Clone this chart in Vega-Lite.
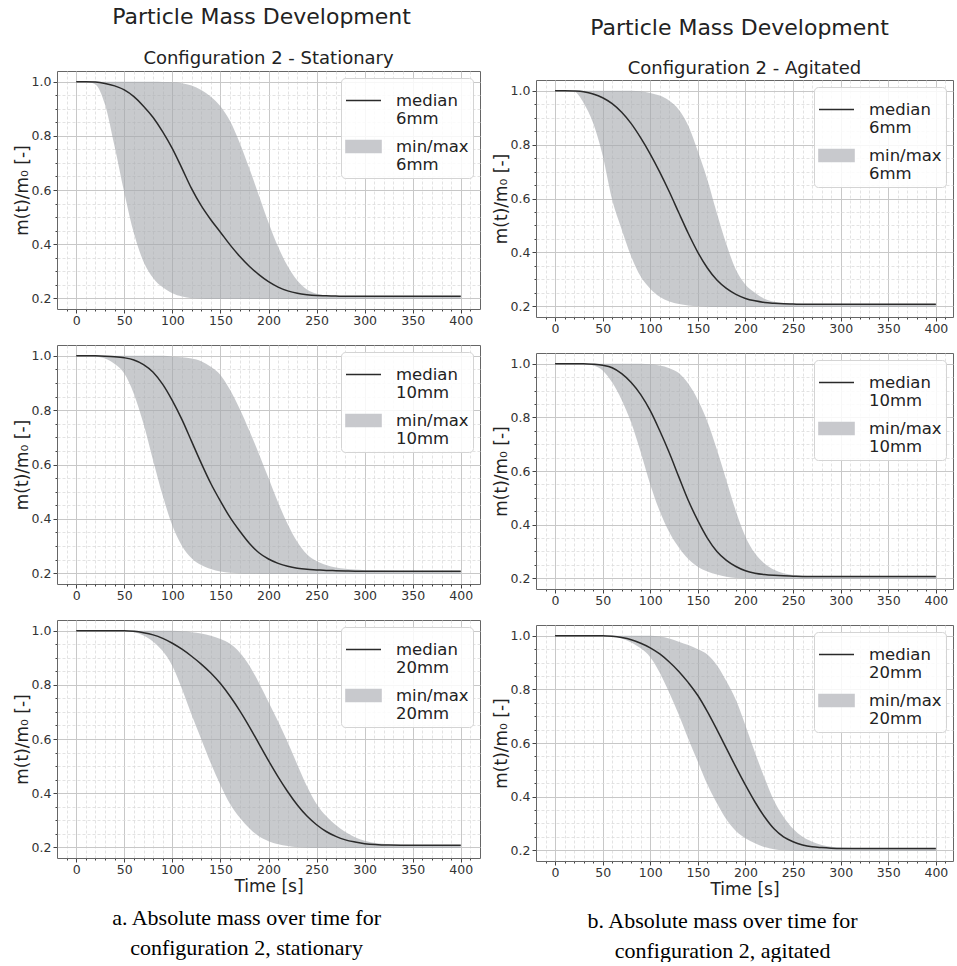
{
  "$schema": "https://vega.github.io/schema/vega-lite/v6.json",
  "background": "white",
  "padding": {"left": 12, "top": 6, "right": 0, "bottom": 0},
  "config": {
    "font": "DejaVu Sans",
    "view": {"stroke": "#666666", "strokeWidth": 1},
    "axis": {"labelFont": "DejaVu Sans", "labelFontSize": 12.5, "labelColor": "#333333", "tickColor": "#444444", "titleFont": "DejaVu Sans", "titleFontSize": 17, "titleFontWeight": "normal", "titleColor": "#222222", "domain": false, "grid": true, "labelFlush": false, "labelPadding": 2},
    "axisY": {"titlePadding": 0, "labelPadding": 2},
    "axisX": {"titlePadding": 3, "labelPadding": 1},
    "title": {"font": "DejaVu Sans", "fontWeight": "normal", "color": "#222222"},
    "legend": {"labelFont": "DejaVu Sans"}
  },
  "datasets": {
    "L6": [
      {"t":0,"med":1,"lo":1,"hi":1},{"t":10,"med":1,"lo":1,"hi":1},{"t":20,"med":0.999,"lo":0.99,"hi":1},{"t":30,"med":0.994,"lo":0.915,"hi":1},{"t":40,"med":0.985,"lo":0.76,"hi":1},{"t":50,"med":0.97,"lo":0.59,"hi":1},{"t":60,"med":0.945,"lo":0.44,"hi":1},{"t":70,"med":0.91,"lo":0.335,"hi":1},{"t":80,"med":0.868,"lo":0.275,"hi":1},{"t":90,"med":0.815,"lo":0.24,"hi":0.999},{"t":100,"med":0.753,"lo":0.218,"hi":0.998},{"t":110,"med":0.68,"lo":0.206,"hi":0.995},{"t":120,"med":0.605,"lo":0.2,"hi":0.986},{"t":130,"med":0.542,"lo":0.198,"hi":0.97},{"t":140,"med":0.49,"lo":0.197,"hi":0.945},{"t":150,"med":0.444,"lo":0.197,"hi":0.91},{"t":160,"med":0.397,"lo":0.197,"hi":0.855},{"t":170,"med":0.355,"lo":0.197,"hi":0.775},{"t":180,"med":0.318,"lo":0.197,"hi":0.68},{"t":190,"med":0.287,"lo":0.197,"hi":0.58},{"t":200,"med":0.261,"lo":0.197,"hi":0.48},{"t":210,"med":0.241,"lo":0.197,"hi":0.39},{"t":220,"med":0.227,"lo":0.197,"hi":0.318},{"t":230,"med":0.218,"lo":0.197,"hi":0.265},{"t":240,"med":0.213,"lo":0.197,"hi":0.232},{"t":250,"med":0.21,"lo":0.197,"hi":0.216},{"t":260,"med":0.209,"lo":0.197,"hi":0.21},{"t":270,"med":0.208,"lo":0.197,"hi":0.209},{"t":280,"med":0.207,"lo":0.197,"hi":0.208},{"t":290,"med":0.207,"lo":0.197,"hi":0.208},{"t":300,"med":0.207,"lo":0.197,"hi":0.208},{"t":325,"med":0.207,"lo":0.197,"hi":0.208},{"t":350,"med":0.207,"lo":0.197,"hi":0.208},{"t":400,"med":0.207,"lo":0.197,"hi":0.208}
    ],
    "L10": [
      {"t":0,"med":1,"lo":1,"hi":1},{"t":10,"med":1,"lo":1,"hi":1},{"t":20,"med":1,"lo":0.998,"hi":1},{"t":30,"med":0.999,"lo":0.99,"hi":1},{"t":40,"med":0.997,"lo":0.97,"hi":1},{"t":50,"med":0.993,"lo":0.935,"hi":1},{"t":60,"med":0.985,"lo":0.86,"hi":1},{"t":70,"med":0.968,"lo":0.75,"hi":1},{"t":80,"med":0.94,"lo":0.615,"hi":1},{"t":90,"med":0.895,"lo":0.485,"hi":1},{"t":100,"med":0.835,"lo":0.375,"hi":0.997},{"t":110,"med":0.765,"lo":0.3,"hi":0.995},{"t":120,"med":0.685,"lo":0.255,"hi":0.99},{"t":130,"med":0.605,"lo":0.23,"hi":0.98},{"t":140,"med":0.53,"lo":0.215,"hi":0.96},{"t":150,"med":0.465,"lo":0.206,"hi":0.93},{"t":160,"med":0.405,"lo":0.201,"hi":0.875},{"t":170,"med":0.355,"lo":0.199,"hi":0.805},{"t":180,"med":0.31,"lo":0.198,"hi":0.725},{"t":190,"med":0.275,"lo":0.197,"hi":0.64},{"t":200,"med":0.252,"lo":0.197,"hi":0.55},{"t":210,"med":0.236,"lo":0.197,"hi":0.46},{"t":220,"med":0.225,"lo":0.197,"hi":0.38},{"t":230,"med":0.218,"lo":0.197,"hi":0.315},{"t":240,"med":0.214,"lo":0.197,"hi":0.27},{"t":250,"med":0.212,"lo":0.197,"hi":0.245},{"t":260,"med":0.21,"lo":0.197,"hi":0.23},{"t":270,"med":0.209,"lo":0.197,"hi":0.221},{"t":280,"med":0.208,"lo":0.197,"hi":0.216},{"t":290,"med":0.207,"lo":0.197,"hi":0.213},{"t":300,"med":0.207,"lo":0.197,"hi":0.211},{"t":325,"med":0.207,"lo":0.197,"hi":0.209},{"t":350,"med":0.207,"lo":0.197,"hi":0.208},{"t":400,"med":0.207,"lo":0.197,"hi":0.208}
    ],
    "L20": [
      {"t":0,"med":1,"lo":1,"hi":1},{"t":10,"med":1,"lo":1,"hi":1},{"t":20,"med":1,"lo":1,"hi":1},{"t":30,"med":1,"lo":1,"hi":1},{"t":40,"med":1,"lo":1,"hi":1},{"t":50,"med":1,"lo":1,"hi":1},{"t":60,"med":0.998,"lo":0.995,"hi":1},{"t":70,"med":0.993,"lo":0.983,"hi":1},{"t":80,"med":0.985,"lo":0.96,"hi":1},{"t":90,"med":0.972,"lo":0.925,"hi":1},{"t":100,"med":0.954,"lo":0.87,"hi":1},{"t":110,"med":0.932,"lo":0.785,"hi":0.998},{"t":120,"med":0.906,"lo":0.69,"hi":0.995},{"t":130,"med":0.877,"lo":0.6,"hi":0.99},{"t":140,"med":0.844,"lo":0.51,"hi":0.982},{"t":150,"med":0.805,"lo":0.43,"hi":0.97},{"t":160,"med":0.758,"lo":0.36,"hi":0.952},{"t":170,"med":0.705,"lo":0.31,"hi":0.92},{"t":180,"med":0.646,"lo":0.27,"hi":0.872},{"t":190,"med":0.583,"lo":0.24,"hi":0.808},{"t":200,"med":0.52,"lo":0.222,"hi":0.737},{"t":210,"med":0.46,"lo":0.211,"hi":0.665},{"t":220,"med":0.405,"lo":0.204,"hi":0.588},{"t":230,"med":0.356,"lo":0.2,"hi":0.505},{"t":240,"med":0.315,"lo":0.198,"hi":0.425},{"t":250,"med":0.283,"lo":0.197,"hi":0.36},{"t":260,"med":0.258,"lo":0.197,"hi":0.315},{"t":270,"med":0.24,"lo":0.197,"hi":0.282},{"t":280,"med":0.227,"lo":0.197,"hi":0.256},{"t":290,"med":0.219,"lo":0.197,"hi":0.237},{"t":300,"med":0.213,"lo":0.197,"hi":0.224},{"t":325,"med":0.208,"lo":0.197,"hi":0.211},{"t":350,"med":0.207,"lo":0.197,"hi":0.208},{"t":400,"med":0.207,"lo":0.197,"hi":0.208}
    ],
    "R6": [
      {"t":0,"med":1,"lo":1,"hi":1},{"t":10,"med":1,"lo":1,"hi":1},{"t":20,"med":0.999,"lo":0.997,"hi":1},{"t":30,"med":0.996,"lo":0.955,"hi":1},{"t":40,"med":0.988,"lo":0.88,"hi":1},{"t":50,"med":0.974,"lo":0.76,"hi":1},{"t":60,"med":0.952,"lo":0.595,"hi":1},{"t":70,"med":0.92,"lo":0.485,"hi":1},{"t":80,"med":0.878,"lo":0.385,"hi":1},{"t":90,"med":0.825,"lo":0.31,"hi":0.998},{"t":100,"med":0.765,"lo":0.265,"hi":0.992},{"t":110,"med":0.698,"lo":0.235,"hi":0.982},{"t":120,"med":0.625,"lo":0.218,"hi":0.963},{"t":130,"med":0.547,"lo":0.208,"hi":0.93},{"t":140,"med":0.47,"lo":0.203,"hi":0.87},{"t":150,"med":0.4,"lo":0.2,"hi":0.775},{"t":160,"med":0.342,"lo":0.198,"hi":0.67},{"t":170,"med":0.297,"lo":0.197,"hi":0.545},{"t":180,"med":0.266,"lo":0.197,"hi":0.43},{"t":190,"med":0.244,"lo":0.197,"hi":0.335},{"t":200,"med":0.229,"lo":0.197,"hi":0.28},{"t":210,"med":0.22,"lo":0.197,"hi":0.25},{"t":220,"med":0.214,"lo":0.197,"hi":0.228},{"t":230,"med":0.211,"lo":0.197,"hi":0.217},{"t":240,"med":0.209,"lo":0.197,"hi":0.212},{"t":250,"med":0.208,"lo":0.197,"hi":0.21},{"t":260,"med":0.207,"lo":0.197,"hi":0.208},{"t":270,"med":0.207,"lo":0.197,"hi":0.208},{"t":280,"med":0.207,"lo":0.197,"hi":0.208},{"t":290,"med":0.207,"lo":0.197,"hi":0.208},{"t":300,"med":0.207,"lo":0.197,"hi":0.208},{"t":325,"med":0.207,"lo":0.197,"hi":0.208},{"t":350,"med":0.207,"lo":0.197,"hi":0.208},{"t":400,"med":0.207,"lo":0.197,"hi":0.208}
    ],
    "R10": [
      {"t":0,"med":1,"lo":1,"hi":1},{"t":10,"med":1,"lo":1,"hi":1},{"t":20,"med":1,"lo":1,"hi":1},{"t":30,"med":1,"lo":1,"hi":1},{"t":40,"med":0.998,"lo":0.993,"hi":1},{"t":50,"med":0.994,"lo":0.975,"hi":1},{"t":60,"med":0.985,"lo":0.93,"hi":1},{"t":70,"med":0.963,"lo":0.865,"hi":1},{"t":80,"med":0.93,"lo":0.78,"hi":1},{"t":90,"med":0.885,"lo":0.67,"hi":1},{"t":100,"med":0.825,"lo":0.55,"hi":0.998},{"t":110,"med":0.75,"lo":0.45,"hi":0.993},{"t":120,"med":0.668,"lo":0.372,"hi":0.983},{"t":130,"med":0.578,"lo":0.315,"hi":0.965},{"t":140,"med":0.49,"lo":0.272,"hi":0.925},{"t":150,"med":0.415,"lo":0.243,"hi":0.865},{"t":160,"med":0.35,"lo":0.225,"hi":0.785},{"t":170,"med":0.3,"lo":0.214,"hi":0.68},{"t":180,"med":0.267,"lo":0.206,"hi":0.565},{"t":190,"med":0.244,"lo":0.201,"hi":0.45},{"t":200,"med":0.228,"lo":0.199,"hi":0.355},{"t":210,"med":0.219,"lo":0.197,"hi":0.293},{"t":220,"med":0.214,"lo":0.197,"hi":0.255},{"t":230,"med":0.211,"lo":0.197,"hi":0.232},{"t":240,"med":0.209,"lo":0.197,"hi":0.219},{"t":250,"med":0.208,"lo":0.197,"hi":0.212},{"t":260,"med":0.207,"lo":0.197,"hi":0.209},{"t":270,"med":0.207,"lo":0.197,"hi":0.208},{"t":280,"med":0.207,"lo":0.197,"hi":0.208},{"t":290,"med":0.207,"lo":0.197,"hi":0.208},{"t":300,"med":0.207,"lo":0.197,"hi":0.208},{"t":325,"med":0.207,"lo":0.197,"hi":0.208},{"t":350,"med":0.207,"lo":0.197,"hi":0.208},{"t":400,"med":0.207,"lo":0.197,"hi":0.208}
    ],
    "R20": [
      {"t":0,"med":1,"lo":1,"hi":1},{"t":10,"med":1,"lo":1,"hi":1},{"t":20,"med":1,"lo":1,"hi":1},{"t":30,"med":1,"lo":1,"hi":1},{"t":40,"med":1,"lo":1,"hi":1},{"t":50,"med":1,"lo":1,"hi":1},{"t":60,"med":0.998,"lo":0.998,"hi":1},{"t":70,"med":0.993,"lo":0.99,"hi":1},{"t":80,"med":0.985,"lo":0.975,"hi":1},{"t":90,"med":0.972,"lo":0.953,"hi":1},{"t":100,"med":0.955,"lo":0.92,"hi":1},{"t":110,"med":0.932,"lo":0.862,"hi":0.997},{"t":120,"med":0.902,"lo":0.787,"hi":0.99},{"t":130,"med":0.867,"lo":0.705,"hi":0.978},{"t":140,"med":0.825,"lo":0.615,"hi":0.965},{"t":150,"med":0.777,"lo":0.53,"hi":0.95},{"t":160,"med":0.717,"lo":0.445,"hi":0.93},{"t":170,"med":0.65,"lo":0.375,"hi":0.89},{"t":180,"med":0.58,"lo":0.315,"hi":0.83},{"t":190,"med":0.51,"lo":0.272,"hi":0.76},{"t":200,"med":0.443,"lo":0.245,"hi":0.665},{"t":210,"med":0.38,"lo":0.226,"hi":0.565},{"t":220,"med":0.325,"lo":0.212,"hi":0.47},{"t":230,"med":0.28,"lo":0.204,"hi":0.385},{"t":240,"med":0.25,"lo":0.2,"hi":0.325},{"t":250,"med":0.232,"lo":0.198,"hi":0.28},{"t":260,"med":0.22,"lo":0.197,"hi":0.25},{"t":270,"med":0.213,"lo":0.197,"hi":0.232},{"t":280,"med":0.21,"lo":0.197,"hi":0.22},{"t":290,"med":0.208,"lo":0.197,"hi":0.213},{"t":300,"med":0.207,"lo":0.197,"hi":0.21},{"t":325,"med":0.207,"lo":0.197,"hi":0.208},{"t":350,"med":0.207,"lo":0.197,"hi":0.208},{"t":400,"med":0.207,"lo":0.197,"hi":0.208}
    ]
  },
  "resolve": {"scale": {"color": "independent", "shape": "independent", "fill": "independent"}, "legend": {"color": "independent", "shape": "independent", "fill": "independent"}},
  "spacing": 10,
  "hconcat": [
    {
      "bounds": "flush",
      "spacing": 36,
      "resolve": {"scale": {"color": "independent", "shape": "independent", "fill": "independent"}, "legend": {"color": "independent", "shape": "independent", "fill": "independent"}},
      "title": {"text": ["a.  Absolute mass over time for", "configuration 2, stationary"], "orient": "bottom", "anchor": "middle", "font": "Liberation Serif", "fontSize": 22, "fontWeight": "normal", "color": "#000000", "lineHeight": 30, "offset": 13},
      "vconcat": [
        {
          "width": 423, "height": 4,
          "view": {"stroke": null},
          "data": {"values": [{}]},
          "mark": {"type": "text"},
          "encoding": {"text": {"value": ""}},
          "title": {"text": "Particle Mass Development", "fontSize": 22, "offset": -2, "dx": -7, "frame": "group", "anchor": "middle"}
        },
        {
          "width": 423, "height": 238,
          "data": {"name": "L6"},
          "title": {"text": "Configuration 2 - Stationary", "fontSize": 18, "offset": 3, "frame": "group", "anchor": "middle"},
          "resolve": {"axis": {"x": "independent", "y": "independent"}},
          "layer": [
            {
              "mark": {"type": "area", "interpolate": "monotone", "opacity": 0.6},
              "encoding": {
                "x": {"field": "t", "type": "quantitative", "scale": {"domain": [-20, 420], "nice": false, "zero": false},
                  "axis": {"orient": "bottom", "title": null, "values": [0,50,100,150,200,250,300,350,400], "tickSize": 4, "grid": true, "gridColor": "#c8c8c8", "gridWidth": 1}},
                "y": {"field": "lo", "type": "quantitative", "scale": {"domain": [0.16, 1.04], "nice": false, "zero": false},
                  "axis": {"orient": "left", "title": "m(t)/m₀ [-]", "values": [0.2,0.4,0.6,0.8,1.0], "format": ".1f", "tickSize": 4, "grid": true, "gridColor": "#c8c8c8", "gridWidth": 1}},
                "y2": {"field": "hi"},
                "fill": {"datum": "band 6mm", "type": "nominal", "scale": {"domain": ["band 6mm"], "range": ["#a4a6ab"]}, "legend": null}
              }
            },
            {
              "mark": {"type": "line", "interpolate": "monotone", "strokeWidth": 1.5},
              "encoding": {
                "x": {"field": "t", "type": "quantitative", "axis": {"orient": "bottom", "title": null, "labels": false, "grid": true, "values": [-10,10,20,30,40,60,70,80,90,110,120,130,140,160,170,180,190,210,220,230,240,260,270,280,290,310,320,330,340,360,370,380,390,410], "tickSize": 2, "gridDash": [3, 2], "gridColor": "#dcdcdc", "gridWidth": 0.8}},
                "y": {"field": "med", "type": "quantitative", "axis": {"orient": "left", "title": null, "labels": false, "grid": true, "values": [0.25,0.3,0.35,0.45,0.5,0.55,0.65,0.7,0.75,0.85,0.9,0.95], "tickSize": 2, "gridDash": [3, 2], "gridColor": "#dcdcdc", "gridWidth": 0.8}},
                "color": {"datum": "median|6mm", "type": "nominal",
                  "scale": {"domain": ["median|6mm", "min/max|6mm"], "range": ["#2a2a2a", "#c8c9cd"]},
                  "legend": {"title": null, "orient": "top-right", "offset": 7, "labelExpr": "split(datum.label, '|')", "labelFontSize": 16.5, "labelColor": "#222222", "symbolSize": 1225, "symbolStrokeWidth": 1.6, "symbolOpacity": 1, "labelOffset": 14, "rowPadding": -4, "padding": 4, "fillColor": "rgba(255,255,255,0.85)", "strokeColor": "#d4d4d4", "cornerRadius": 4, "labelLimit": 300}}
              }
            },
            {
              "mark": {"type": "point", "opacity": 0, "filled": true},
              "encoding": {
                "x": {"field": "t", "type": "quantitative", "axis": null},
                "y": {"field": "med", "type": "quantitative", "axis": null},
                "color": {"datum": "median|6mm", "type": "nominal"},
                "shape": {"datum": "median|6mm", "type": "nominal",
                  "scale": {"domain": ["median|6mm", "min/max|6mm"], "range": ["M-1,0H1", "M-1,-0.34H1V0.34H-1Z"]},
                  "legend": {"title": null, "orient": "top-right", "offset": 7, "labelExpr": "split(datum.label, '|')", "labelFontSize": 16.5, "labelColor": "#222222", "symbolSize": 1225, "symbolStrokeWidth": 1.6, "symbolOpacity": 1, "labelOffset": 14, "rowPadding": -4, "padding": 4, "fillColor": "rgba(255,255,255,0.85)", "strokeColor": "#d4d4d4", "cornerRadius": 4, "labelLimit": 300}}
              }
            }
          ]
        },
        {
          "width": 423, "height": 239,
          "data": {"name": "L10"},
          "resolve": {"axis": {"x": "independent", "y": "independent"}},
          "layer": [
            {
              "mark": {"type": "area", "interpolate": "monotone", "opacity": 0.6},
              "encoding": {
                "x": {"field": "t", "type": "quantitative", "scale": {"domain": [-20, 420], "nice": false, "zero": false},
                  "axis": {"orient": "bottom", "title": null, "values": [0,50,100,150,200,250,300,350,400], "tickSize": 4, "grid": true, "gridColor": "#c8c8c8", "gridWidth": 1}},
                "y": {"field": "lo", "type": "quantitative", "scale": {"domain": [0.16, 1.04], "nice": false, "zero": false},
                  "axis": {"orient": "left", "title": "m(t)/m₀ [-]", "values": [0.2,0.4,0.6,0.8,1.0], "format": ".1f", "tickSize": 4, "grid": true, "gridColor": "#c8c8c8", "gridWidth": 1}},
                "y2": {"field": "hi"},
                "fill": {"datum": "band 10mm", "type": "nominal", "scale": {"domain": ["band 10mm"], "range": ["#a4a6ab"]}, "legend": null}
              }
            },
            {
              "mark": {"type": "line", "interpolate": "monotone", "strokeWidth": 1.5},
              "encoding": {
                "x": {"field": "t", "type": "quantitative", "axis": {"orient": "bottom", "title": null, "labels": false, "grid": true, "values": [-10,10,20,30,40,60,70,80,90,110,120,130,140,160,170,180,190,210,220,230,240,260,270,280,290,310,320,330,340,360,370,380,390,410], "tickSize": 2, "gridDash": [3, 2], "gridColor": "#dcdcdc", "gridWidth": 0.8}},
                "y": {"field": "med", "type": "quantitative", "axis": {"orient": "left", "title": null, "labels": false, "grid": true, "values": [0.25,0.3,0.35,0.45,0.5,0.55,0.65,0.7,0.75,0.85,0.9,0.95], "tickSize": 2, "gridDash": [3, 2], "gridColor": "#dcdcdc", "gridWidth": 0.8}},
                "color": {"datum": "median|10mm", "type": "nominal",
                  "scale": {"domain": ["median|10mm", "min/max|10mm"], "range": ["#2a2a2a", "#c8c9cd"]},
                  "legend": {"title": null, "orient": "top-right", "offset": 7, "labelExpr": "split(datum.label, '|')", "labelFontSize": 16.5, "labelColor": "#222222", "symbolSize": 1225, "symbolStrokeWidth": 1.6, "symbolOpacity": 1, "labelOffset": 14, "rowPadding": -4, "padding": 4, "fillColor": "rgba(255,255,255,0.85)", "strokeColor": "#d4d4d4", "cornerRadius": 4, "labelLimit": 300}}
              }
            },
            {
              "mark": {"type": "point", "opacity": 0, "filled": true},
              "encoding": {
                "x": {"field": "t", "type": "quantitative", "axis": null},
                "y": {"field": "med", "type": "quantitative", "axis": null},
                "color": {"datum": "median|10mm", "type": "nominal"},
                "shape": {"datum": "median|10mm", "type": "nominal",
                  "scale": {"domain": ["median|10mm", "min/max|10mm"], "range": ["M-1,0H1", "M-1,-0.34H1V0.34H-1Z"]},
                  "legend": {"title": null, "orient": "top-right", "offset": 7, "labelExpr": "split(datum.label, '|')", "labelFontSize": 16.5, "labelColor": "#222222", "symbolSize": 1225, "symbolStrokeWidth": 1.6, "symbolOpacity": 1, "labelOffset": 14, "rowPadding": -4, "padding": 4, "fillColor": "rgba(255,255,255,0.85)", "strokeColor": "#d4d4d4", "cornerRadius": 4, "labelLimit": 300}}
              }
            }
          ]
        },
        {
          "width": 423, "height": 238,
          "data": {"name": "L20"},
          "resolve": {"axis": {"x": "independent", "y": "independent"}},
          "layer": [
            {
              "mark": {"type": "area", "interpolate": "monotone", "opacity": 0.6},
              "encoding": {
                "x": {"field": "t", "type": "quantitative", "scale": {"domain": [-20, 420], "nice": false, "zero": false},
                  "axis": {"orient": "bottom", "title": "Time [s]", "values": [0,50,100,150,200,250,300,350,400], "tickSize": 4, "grid": true, "gridColor": "#c8c8c8", "gridWidth": 1}},
                "y": {"field": "lo", "type": "quantitative", "scale": {"domain": [0.16, 1.04], "nice": false, "zero": false},
                  "axis": {"orient": "left", "title": "m(t)/m₀ [-]", "values": [0.2,0.4,0.6,0.8,1.0], "format": ".1f", "tickSize": 4, "grid": true, "gridColor": "#c8c8c8", "gridWidth": 1}},
                "y2": {"field": "hi"},
                "fill": {"datum": "band 20mm", "type": "nominal", "scale": {"domain": ["band 20mm"], "range": ["#a4a6ab"]}, "legend": null}
              }
            },
            {
              "mark": {"type": "line", "interpolate": "monotone", "strokeWidth": 1.5},
              "encoding": {
                "x": {"field": "t", "type": "quantitative", "axis": {"orient": "bottom", "title": null, "labels": false, "grid": true, "values": [-10,10,20,30,40,60,70,80,90,110,120,130,140,160,170,180,190,210,220,230,240,260,270,280,290,310,320,330,340,360,370,380,390,410], "tickSize": 2, "gridDash": [3, 2], "gridColor": "#dcdcdc", "gridWidth": 0.8}},
                "y": {"field": "med", "type": "quantitative", "axis": {"orient": "left", "title": null, "labels": false, "grid": true, "values": [0.25,0.3,0.35,0.45,0.5,0.55,0.65,0.7,0.75,0.85,0.9,0.95], "tickSize": 2, "gridDash": [3, 2], "gridColor": "#dcdcdc", "gridWidth": 0.8}},
                "color": {"datum": "median|20mm", "type": "nominal",
                  "scale": {"domain": ["median|20mm", "min/max|20mm"], "range": ["#2a2a2a", "#c8c9cd"]},
                  "legend": {"title": null, "orient": "top-right", "offset": 7, "labelExpr": "split(datum.label, '|')", "labelFontSize": 16.5, "labelColor": "#222222", "symbolSize": 1225, "symbolStrokeWidth": 1.6, "symbolOpacity": 1, "labelOffset": 14, "rowPadding": -4, "padding": 4, "fillColor": "rgba(255,255,255,0.85)", "strokeColor": "#d4d4d4", "cornerRadius": 4, "labelLimit": 300}}
              }
            },
            {
              "mark": {"type": "point", "opacity": 0, "filled": true},
              "encoding": {
                "x": {"field": "t", "type": "quantitative", "axis": null},
                "y": {"field": "med", "type": "quantitative", "axis": null},
                "color": {"datum": "median|20mm", "type": "nominal"},
                "shape": {"datum": "median|20mm", "type": "nominal",
                  "scale": {"domain": ["median|20mm", "min/max|20mm"], "range": ["M-1,0H1", "M-1,-0.34H1V0.34H-1Z"]},
                  "legend": {"title": null, "orient": "top-right", "offset": 7, "labelExpr": "split(datum.label, '|')", "labelFontSize": 16.5, "labelColor": "#222222", "symbolSize": 1225, "symbolStrokeWidth": 1.6, "symbolOpacity": 1, "labelOffset": 14, "rowPadding": -4, "padding": 4, "fillColor": "rgba(255,255,255,0.85)", "strokeColor": "#d4d4d4", "cornerRadius": 4, "labelLimit": 300}}
              }
            }
          ]
        }
      ]
    },
    {
      "bounds": "flush",
      "spacing": 36,
      "resolve": {"scale": {"color": "independent", "shape": "independent", "fill": "independent"}, "legend": {"color": "independent", "shape": "independent", "fill": "independent"}},
      "title": {"text": ["b.  Absolute mass over time for", "configuration 2, agitated"], "orient": "bottom", "anchor": "middle", "font": "Liberation Serif", "fontSize": 22, "fontWeight": "normal", "color": "#000000", "lineHeight": 30, "offset": 13},
      "vconcat": [
        {
          "width": 417, "height": 13,
          "view": {"stroke": null},
          "data": {"values": [{}]},
          "mark": {"type": "text"},
          "encoding": {"text": {"value": ""}},
          "title": {"text": "Particle Mass Development", "fontSize": 22, "offset": 1, "dx": -5, "dy": 10, "frame": "group", "anchor": "middle"}
        },
        {
          "width": 417, "height": 237,
          "data": {"name": "R6"},
          "title": {"text": "Configuration 2 - Agitated", "fontSize": 18, "offset": 2, "frame": "group", "anchor": "middle"},
          "resolve": {"axis": {"x": "independent", "y": "independent"}},
          "layer": [
            {
              "mark": {"type": "area", "interpolate": "monotone", "opacity": 0.6},
              "encoding": {
                "x": {"field": "t", "type": "quantitative", "scale": {"domain": [-20, 418], "nice": false, "zero": false},
                  "axis": {"orient": "bottom", "title": null, "values": [0,50,100,150,200,250,300,350,400], "tickSize": 4, "grid": true, "gridColor": "#c8c8c8", "gridWidth": 1}},
                "y": {"field": "lo", "type": "quantitative", "scale": {"domain": [0.16, 1.04], "nice": false, "zero": false},
                  "axis": {"orient": "left", "title": "m(t)/m₀ [-]", "values": [0.2,0.4,0.6,0.8,1.0], "format": ".1f", "tickSize": 4, "grid": true, "gridColor": "#c8c8c8", "gridWidth": 1}},
                "y2": {"field": "hi"},
                "fill": {"datum": "band 6mm", "type": "nominal", "scale": {"domain": ["band 6mm"], "range": ["#a4a6ab"]}, "legend": null}
              }
            },
            {
              "mark": {"type": "line", "interpolate": "monotone", "strokeWidth": 1.5},
              "encoding": {
                "x": {"field": "t", "type": "quantitative", "axis": {"orient": "bottom", "title": null, "labels": false, "grid": true, "values": [-10,10,20,30,40,60,70,80,90,110,120,130,140,160,170,180,190,210,220,230,240,260,270,280,290,310,320,330,340,360,370,380,390,410], "tickSize": 2, "gridDash": [3, 2], "gridColor": "#dcdcdc", "gridWidth": 0.8}},
                "y": {"field": "med", "type": "quantitative", "axis": {"orient": "left", "title": null, "labels": false, "grid": true, "values": [0.25,0.3,0.35,0.45,0.5,0.55,0.65,0.7,0.75,0.85,0.9,0.95], "tickSize": 2, "gridDash": [3, 2], "gridColor": "#dcdcdc", "gridWidth": 0.8}},
                "color": {"datum": "median|6mm", "type": "nominal",
                  "scale": {"domain": ["median|6mm", "min/max|6mm"], "range": ["#2a2a2a", "#c8c9cd"]},
                  "legend": {"title": null, "orient": "top-right", "offset": 7, "labelExpr": "split(datum.label, '|')", "labelFontSize": 16.5, "labelColor": "#222222", "symbolSize": 1225, "symbolStrokeWidth": 1.6, "symbolOpacity": 1, "labelOffset": 14, "rowPadding": -4, "padding": 4, "fillColor": "rgba(255,255,255,0.85)", "strokeColor": "#d4d4d4", "cornerRadius": 4, "labelLimit": 300}}
              }
            },
            {
              "mark": {"type": "point", "opacity": 0, "filled": true},
              "encoding": {
                "x": {"field": "t", "type": "quantitative", "axis": null},
                "y": {"field": "med", "type": "quantitative", "axis": null},
                "color": {"datum": "median|6mm", "type": "nominal"},
                "shape": {"datum": "median|6mm", "type": "nominal",
                  "scale": {"domain": ["median|6mm", "min/max|6mm"], "range": ["M-1,0H1", "M-1,-0.34H1V0.34H-1Z"]},
                  "legend": {"title": null, "orient": "top-right", "offset": 7, "labelExpr": "split(datum.label, '|')", "labelFontSize": 16.5, "labelColor": "#222222", "symbolSize": 1225, "symbolStrokeWidth": 1.6, "symbolOpacity": 1, "labelOffset": 14, "rowPadding": -4, "padding": 4, "fillColor": "rgba(255,255,255,0.85)", "strokeColor": "#d4d4d4", "cornerRadius": 4, "labelLimit": 300}}
              }
            }
          ]
        },
        {
          "width": 417, "height": 236,
          "data": {"name": "R10"},
          "resolve": {"axis": {"x": "independent", "y": "independent"}},
          "layer": [
            {
              "mark": {"type": "area", "interpolate": "monotone", "opacity": 0.6},
              "encoding": {
                "x": {"field": "t", "type": "quantitative", "scale": {"domain": [-20, 418], "nice": false, "zero": false},
                  "axis": {"orient": "bottom", "title": null, "values": [0,50,100,150,200,250,300,350,400], "tickSize": 4, "grid": true, "gridColor": "#c8c8c8", "gridWidth": 1}},
                "y": {"field": "lo", "type": "quantitative", "scale": {"domain": [0.16, 1.04], "nice": false, "zero": false},
                  "axis": {"orient": "left", "title": "m(t)/m₀ [-]", "values": [0.2,0.4,0.6,0.8,1.0], "format": ".1f", "tickSize": 4, "grid": true, "gridColor": "#c8c8c8", "gridWidth": 1}},
                "y2": {"field": "hi"},
                "fill": {"datum": "band 10mm", "type": "nominal", "scale": {"domain": ["band 10mm"], "range": ["#a4a6ab"]}, "legend": null}
              }
            },
            {
              "mark": {"type": "line", "interpolate": "monotone", "strokeWidth": 1.5},
              "encoding": {
                "x": {"field": "t", "type": "quantitative", "axis": {"orient": "bottom", "title": null, "labels": false, "grid": true, "values": [-10,10,20,30,40,60,70,80,90,110,120,130,140,160,170,180,190,210,220,230,240,260,270,280,290,310,320,330,340,360,370,380,390,410], "tickSize": 2, "gridDash": [3, 2], "gridColor": "#dcdcdc", "gridWidth": 0.8}},
                "y": {"field": "med", "type": "quantitative", "axis": {"orient": "left", "title": null, "labels": false, "grid": true, "values": [0.25,0.3,0.35,0.45,0.5,0.55,0.65,0.7,0.75,0.85,0.9,0.95], "tickSize": 2, "gridDash": [3, 2], "gridColor": "#dcdcdc", "gridWidth": 0.8}},
                "color": {"datum": "median|10mm", "type": "nominal",
                  "scale": {"domain": ["median|10mm", "min/max|10mm"], "range": ["#2a2a2a", "#c8c9cd"]},
                  "legend": {"title": null, "orient": "top-right", "offset": 7, "labelExpr": "split(datum.label, '|')", "labelFontSize": 16.5, "labelColor": "#222222", "symbolSize": 1225, "symbolStrokeWidth": 1.6, "symbolOpacity": 1, "labelOffset": 14, "rowPadding": -4, "padding": 4, "fillColor": "rgba(255,255,255,0.85)", "strokeColor": "#d4d4d4", "cornerRadius": 4, "labelLimit": 300}}
              }
            },
            {
              "mark": {"type": "point", "opacity": 0, "filled": true},
              "encoding": {
                "x": {"field": "t", "type": "quantitative", "axis": null},
                "y": {"field": "med", "type": "quantitative", "axis": null},
                "color": {"datum": "median|10mm", "type": "nominal"},
                "shape": {"datum": "median|10mm", "type": "nominal",
                  "scale": {"domain": ["median|10mm", "min/max|10mm"], "range": ["M-1,0H1", "M-1,-0.34H1V0.34H-1Z"]},
                  "legend": {"title": null, "orient": "top-right", "offset": 7, "labelExpr": "split(datum.label, '|')", "labelFontSize": 16.5, "labelColor": "#222222", "symbolSize": 1225, "symbolStrokeWidth": 1.6, "symbolOpacity": 1, "labelOffset": 14, "rowPadding": -4, "padding": 4, "fillColor": "rgba(255,255,255,0.85)", "strokeColor": "#d4d4d4", "cornerRadius": 4, "labelLimit": 300}}
              }
            }
          ]
        },
        {
          "width": 417, "height": 236,
          "data": {"name": "R20"},
          "resolve": {"axis": {"x": "independent", "y": "independent"}},
          "layer": [
            {
              "mark": {"type": "area", "interpolate": "monotone", "opacity": 0.6},
              "encoding": {
                "x": {"field": "t", "type": "quantitative", "scale": {"domain": [-20, 418], "nice": false, "zero": false},
                  "axis": {"orient": "bottom", "title": "Time [s]", "values": [0,50,100,150,200,250,300,350,400], "tickSize": 4, "grid": true, "gridColor": "#c8c8c8", "gridWidth": 1}},
                "y": {"field": "lo", "type": "quantitative", "scale": {"domain": [0.16, 1.04], "nice": false, "zero": false},
                  "axis": {"orient": "left", "title": "m(t)/m₀ [-]", "values": [0.2,0.4,0.6,0.8,1.0], "format": ".1f", "tickSize": 4, "grid": true, "gridColor": "#c8c8c8", "gridWidth": 1}},
                "y2": {"field": "hi"},
                "fill": {"datum": "band 20mm", "type": "nominal", "scale": {"domain": ["band 20mm"], "range": ["#a4a6ab"]}, "legend": null}
              }
            },
            {
              "mark": {"type": "line", "interpolate": "monotone", "strokeWidth": 1.5},
              "encoding": {
                "x": {"field": "t", "type": "quantitative", "axis": {"orient": "bottom", "title": null, "labels": false, "grid": true, "values": [-10,10,20,30,40,60,70,80,90,110,120,130,140,160,170,180,190,210,220,230,240,260,270,280,290,310,320,330,340,360,370,380,390,410], "tickSize": 2, "gridDash": [3, 2], "gridColor": "#dcdcdc", "gridWidth": 0.8}},
                "y": {"field": "med", "type": "quantitative", "axis": {"orient": "left", "title": null, "labels": false, "grid": true, "values": [0.25,0.3,0.35,0.45,0.5,0.55,0.65,0.7,0.75,0.85,0.9,0.95], "tickSize": 2, "gridDash": [3, 2], "gridColor": "#dcdcdc", "gridWidth": 0.8}},
                "color": {"datum": "median|20mm", "type": "nominal",
                  "scale": {"domain": ["median|20mm", "min/max|20mm"], "range": ["#2a2a2a", "#c8c9cd"]},
                  "legend": {"title": null, "orient": "top-right", "offset": 7, "labelExpr": "split(datum.label, '|')", "labelFontSize": 16.5, "labelColor": "#222222", "symbolSize": 1225, "symbolStrokeWidth": 1.6, "symbolOpacity": 1, "labelOffset": 14, "rowPadding": -4, "padding": 4, "fillColor": "rgba(255,255,255,0.85)", "strokeColor": "#d4d4d4", "cornerRadius": 4, "labelLimit": 300}}
              }
            },
            {
              "mark": {"type": "point", "opacity": 0, "filled": true},
              "encoding": {
                "x": {"field": "t", "type": "quantitative", "axis": null},
                "y": {"field": "med", "type": "quantitative", "axis": null},
                "color": {"datum": "median|20mm", "type": "nominal"},
                "shape": {"datum": "median|20mm", "type": "nominal",
                  "scale": {"domain": ["median|20mm", "min/max|20mm"], "range": ["M-1,0H1", "M-1,-0.34H1V0.34H-1Z"]},
                  "legend": {"title": null, "orient": "top-right", "offset": 7, "labelExpr": "split(datum.label, '|')", "labelFontSize": 16.5, "labelColor": "#222222", "symbolSize": 1225, "symbolStrokeWidth": 1.6, "symbolOpacity": 1, "labelOffset": 14, "rowPadding": -4, "padding": 4, "fillColor": "rgba(255,255,255,0.85)", "strokeColor": "#d4d4d4", "cornerRadius": 4, "labelLimit": 300}}
              }
            }
          ]
        }
      ]
    }
  ]
}
